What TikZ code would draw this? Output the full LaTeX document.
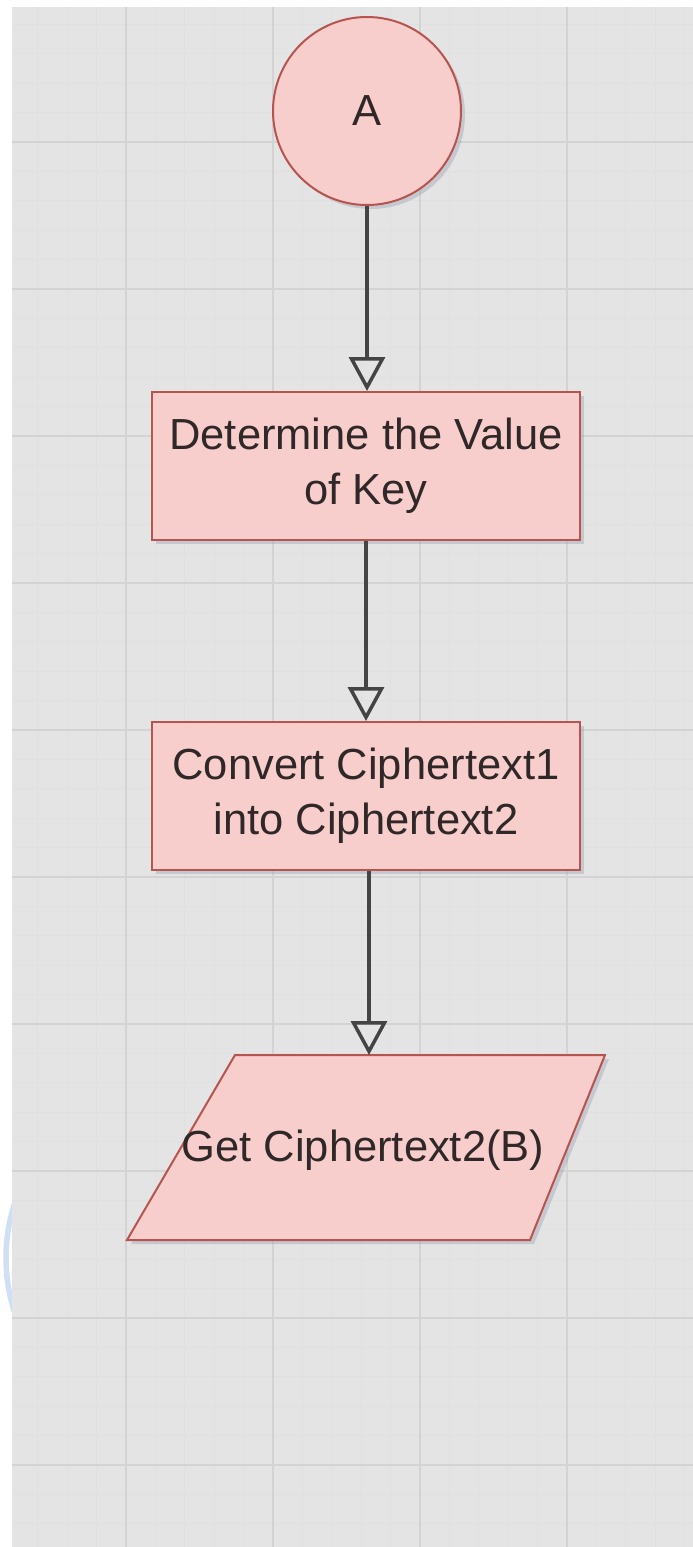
\documentclass[tikz,border=0pt]{standalone}
\usepackage{fontspec}
\setmainfont{Liberation Sans}
\usetikzlibrary{arrows.meta}

\definecolor{canvas}{HTML}{E4E4E4}
\definecolor{gridminor}{HTML}{E0E0E0}
\definecolor{gridmajor}{HTML}{D3D3D3}
\definecolor{boxfill}{HTML}{F8CECC}
\definecolor{boxline}{HTML}{B85450}
\definecolor{ink}{HTML}{302828}
\definecolor{wire}{HTML}{444444}
\definecolor{shade}{HTML}{8E96AA}
\definecolor{arcblue}{HTML}{CFE0F6}

\tikzset{
  labelfont/.style={font=\fontsize{43.5}{55}\selectfont, text=ink, align=center},
  dropshade/.style={preaction={fill=shade, fill opacity=.35,
      transform canvas={shift={(4pt,-4pt)}}}},
  shapebase/.style={draw=boxline, fill=boxfill, line width=2pt, dropshade},
  stepbox/.style={shapebase, labelfont, rectangle,
      minimum width=428pt, minimum height=148pt, inner sep=0pt},
  connector/.style={draw=wire, line width=3.5pt,
      -{Triangle[open, length=34pt, width=36pt]}},
}

\begin{document}
\begin{tikzpicture}[x=1pt, y=-1pt]
  \useasboundingbox (0,0) rectangle (693,1547);
  \fill[white] (0,0) rectangle (693,1547);

  % partly hidden ring at the left margin
  \draw[arcblue, line width=5.5pt] (181,1258) circle[radius=175pt];

  % canvas with grid
  \fill[canvas] (12,7) rectangle (693,1547);
  \begin{scope}
    \clip (12,7) rectangle (693,1547);
    \foreach \k in {0,...,24} {
      \draw[gridminor, line width=1pt] ({-21+29.4*\k},7) -- ({-21+29.4*\k},1547);
    }
    \foreach \k in {0,...,53} {
      \draw[gridminor, line width=1pt] (12,{-5+29.4*\k}) -- (693,{-5+29.4*\k});
    }
    \foreach \k in {0,...,4} {
      \draw[gridmajor, line width=1.5pt] ({-21+147*\k},7) -- ({-21+147*\k},1547);
    }
    \foreach \k in {0,...,10} {
      \draw[gridmajor, line width=1.5pt] (12,{-5+147*\k}) -- (693,{-5+147*\k});
    }
  \end{scope}

  % flowchart shapes
  \node[shapebase, labelfont, circle, minimum size=188pt, inner sep=0pt]
    (start) at (367,111) {A};
  \node[stepbox] (key) at (366,466) {Determine the Value\\of Key};
  \node[stepbox] (convert) at (366,796) {Convert Ciphertext1\\into Ciphertext2};

  \path[shapebase] (235,1055) -- (605,1055) -- (530,1240) -- (127,1240) -- cycle;
  \node[labelfont] (result) at (363,1150) {Get Ciphertext2(B)};
  \coordinate (resulttop) at (369,1055);

  % connectors
  \draw[connector] (start) -- (start |- key.north);
  \draw[connector] (key) -- (convert);
  \draw[connector] (convert.south -| resulttop) -- (resulttop);
\end{tikzpicture}
\end{document}
